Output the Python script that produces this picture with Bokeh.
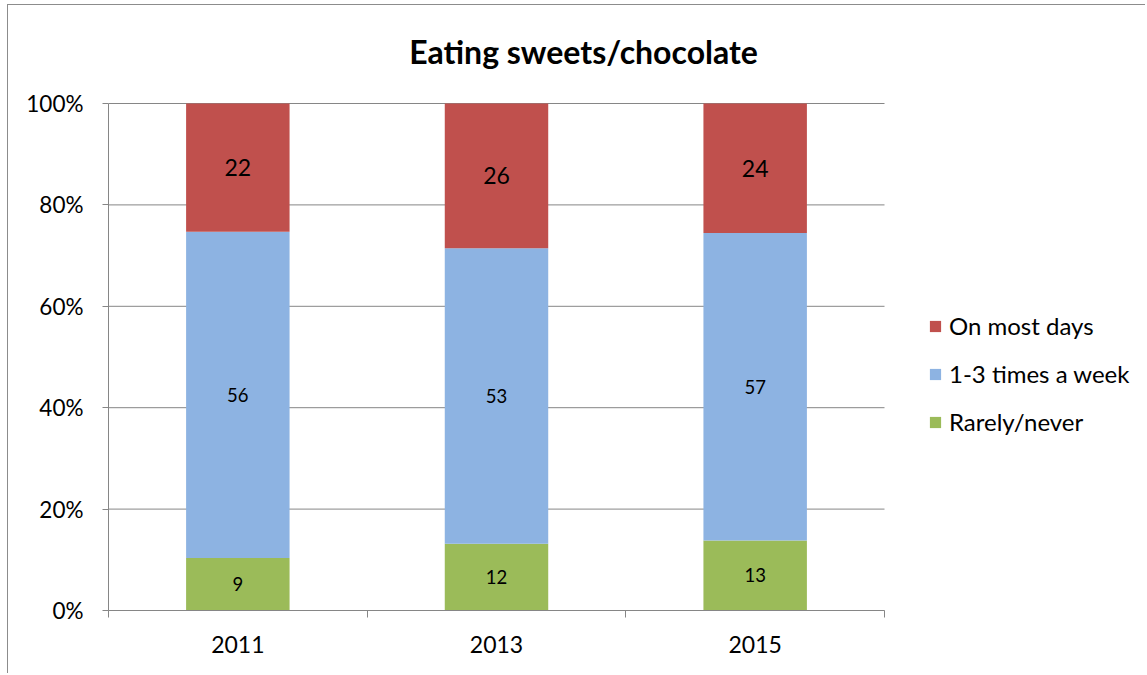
from bokeh.plotting import figure
from bokeh.models import (ColumnDataSource, FixedTicker, NumeralTickFormatter, Legend,
                          LegendItem, Label, Range1d)
from bokeh.core.properties import value
from bokeh.embed import file_html
from bokeh.resources import INLINE

years = ["2011", "2013", "2015"]
rarely = [9, 12, 13]
weekly = [56, 53, 57]
most_days = [22, 26, 24]
series_names = ["Rarely/never", "1-3 times a week", "On most days"]
colors = ["#9BBB59", "#8DB3E2", "#C0504D"]
y_ticks = [0, 0.2, 0.4, 0.6, 0.8, 1.0]
title_text = "Eating sweets/chocolate"

FONT = "Lato"
GRAY = "#868686"

n = len(years)
xs = [i + 0.5 for i in range(n)]
totals = [a + b + c for a, b, c in zip(rarely, weekly, most_days)]
frac = {
    "Rarely/never": [v / t for v, t in zip(rarely, totals)],
    "1-3 times a week": [v / t for v, t in zip(weekly, totals)],
    "On most days": [v / t for v, t in zip(most_days, totals)],
}
src = ColumnDataSource(dict(x=xs, **frac))

W, H = 1138, 669
BL, BB = 100, 64
frame_w = W - BL                 # frame runs to the right edge (legend lives inside it)
frame_h = H - BB                 # frame runs to the top edge (title lives inside it)
cat_px = 776                     # pixel width of the category area
val_px = 507                     # pixel height of the 0-100% area
x_end = n * frame_w / cat_px
y_end = frame_h / val_px

p = figure(width=W, height=H, output_backend="svg", toolbar_location=None,
           x_range=Range1d(0, x_end), y_range=Range1d(0, y_end),
           min_border_left=BL, min_border_right=0, min_border_top=0, min_border_bottom=BB)
p.styles = {"margin-left": "7px", "margin-top": "4px",
            "border-left": "1px solid #8c8c8c", "border-top": "1px solid #8c8c8c"}
p.outline_line_color = None
p.background_fill_color = "white"

# horizontal gridlines limited to the category area
p.segment(x0=[0] * len(y_ticks), x1=[n] * len(y_ticks), y0=y_ticks, y1=y_ticks,
          line_color=GRAY, line_width=1)

rs = p.vbar_stack(series_names, x="x", width=0.4, color=colors, source=src, line_color=None)

# data labels
raw = [rarely, weekly, most_days]
base = [0.0] * n
for k, name in enumerate(series_names):
    centers = [b + f / 2 for b, f in zip(base, frac[name])]
    base = [b + f for b, f in zip(base, frac[name])]
    lsrc = ColumnDataSource(dict(x=xs, y=centers, t=[str(v) for v in raw[k]]))
    size = "23px" if name == "On most days" else "18.5px"
    p.text(x="x", y="y", text="t", source=lsrc, text_align="center", text_baseline="middle",
           text_font=value(FONT), text_font_size=size, text_color="black")

# axes
p.xaxis.bounds = (0, n)
p.xaxis.ticker = FixedTicker(ticks=xs, minor_ticks=list(range(n + 1)))
p.xaxis.major_label_overrides = {x: y for x, y in zip(xs, years)}
p.xaxis.major_tick_out = 0
p.xaxis.major_tick_in = 0
p.xaxis.minor_tick_out = 7
p.xaxis.minor_tick_in = 0
p.xaxis.minor_tick_line_color = GRAY
p.xaxis.axis_line_color = GRAY
p.xaxis.major_label_standoff = 18
p.xaxis.major_label_text_font = FONT
p.xaxis.major_label_text_font_size = "23px"
p.xaxis.major_label_text_color = "black"

p.yaxis.bounds = (0, 1)
p.yaxis.ticker = FixedTicker(ticks=y_ticks)
p.yaxis.formatter = NumeralTickFormatter(format="0%")
p.yaxis.major_tick_out = 6
p.yaxis.major_tick_in = 0
p.yaxis.minor_tick_line_color = None
p.yaxis.major_tick_line_color = GRAY
p.yaxis.axis_line_color = GRAY
p.yaxis.major_label_standoff = 19
p.yaxis.major_label_text_font = FONT
p.yaxis.major_label_text_font_size = "22.5px"
p.yaxis.major_label_text_color = "black"

p.xgrid.grid_line_color = None
p.ygrid.grid_line_color = None

# title
title = Label(x=475, y=559, x_units="screen", y_units="screen", text=title_text,
              text_font=FONT, text_font_style="bold", text_font_size="32px",
              text_align="center", text_baseline="middle", text_color="black")
p.add_layout(title)

# legend
items = [LegendItem(label=series_names[i], renderers=[rs[i]]) for i in (2, 1, 0)]
legend = Legend(items=items, location=(820, 174), orientation="vertical",
                glyph_width=14, glyph_height=14, label_standoff=7, spacing=19,
                padding=0, margin=0, border_line_color=None, background_fill_alpha=0,
                label_text_font=FONT, label_text_font_size="24px", label_text_color="black")
p.add_layout(legend, "center")

open("out.html", "w").write(file_html(p, INLINE))
